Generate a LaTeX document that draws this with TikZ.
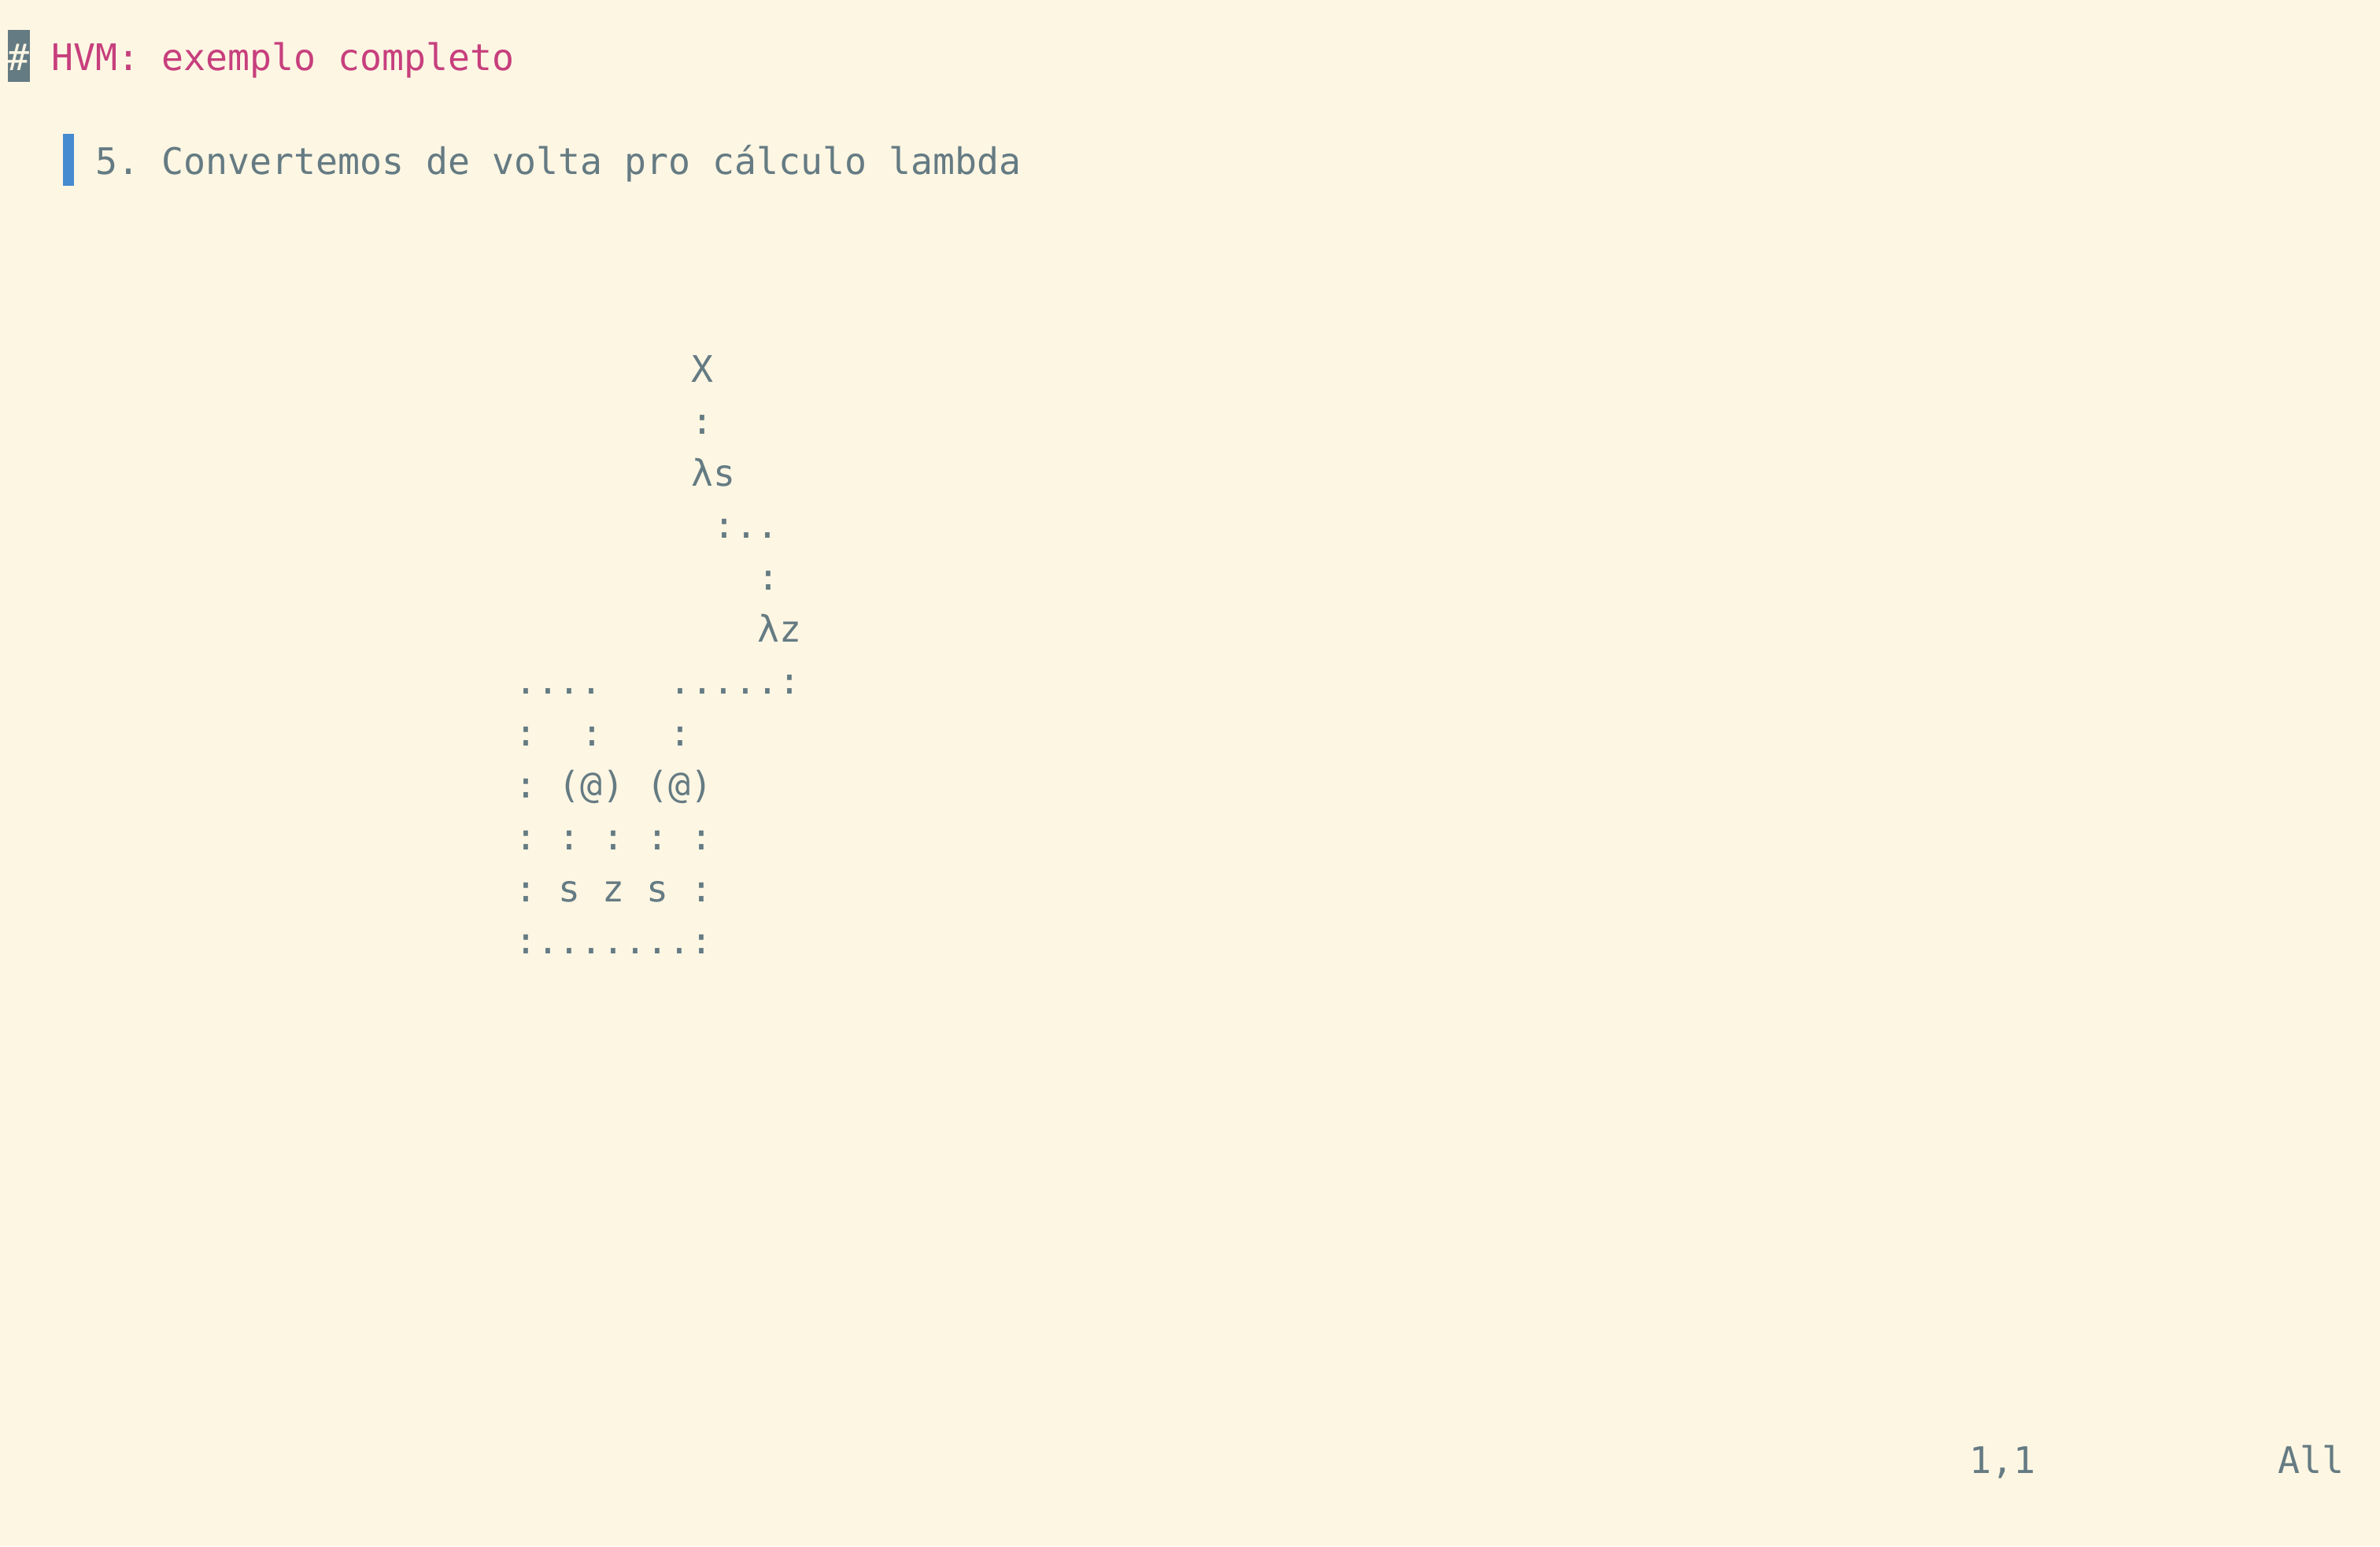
\documentclass[tikz,border=0pt]{standalone}
\usepackage{fontspec}
\setmonofont{DejaVu Sans Mono}
\usepackage{xcolor}
\definecolor{paper}{HTML}{FDF6E3}
\definecolor{ink}{HTML}{657B83}
\definecolor{rose}{HTML}{C73F7D}
\definecolor{quotebar}{HTML}{468AD0}
\tikzset{
  term/.style={anchor=base west, inner sep=0pt, outer sep=0pt, text=ink,
    font=\ttfamily\fontsize{11.627pt}{16.5pt}\selectfont},
}

\begin{document}
\begin{tikzpicture}[x=7pt, y=-16.5pt]
  % one unit = one character cell: x = column, y = line (baseline)
  \fill[paper] (-0.357,-1.353) rectangle (107.643,28.405);
  \useasboundingbox (-0.357,-1.353) rectangle (107.643,28.405);

  % heading
  \fill[ink] (0,-0.777) rectangle (1,0.223);
  \node[term, text=paper] (hash) at (0,0) {\#};
  \node[term, text=rose] (title) at (2,0) {HVM: exemplo completo};

  % quote line
  \fill[quotebar] (2.5,1.223) rectangle (3,2.223);
  \node[term] (step5) at (4,2) {5. Convertemos de volta pro cálculo lambda};

  % the term, drawn as text
  \node[term] (rootx) at (31,6) {X};
  \node[term] (l7) at (31,7) {:};
  \node[term] (lams) at (31,8) {λs};
  \node[term] (l9) at (32,9) {:..};
  \node[term] (l10) at (34,10) {:};
  \node[term] (lamz) at (34,11) {λz};
  \node[term] (l12a) at (23,12) {....};
  \node[term] (l12b) at (30,12) {.....:};
  \node[term] (l13a) at (23,13) {:};
  \node[term] (l13b) at (26,13) {:};
  \node[term] (l13c) at (30,13) {:};
  \node[term] (apps) at (23,14) {: (@) (@)};
  \node[term] (l15) at (23,15) {: : : : :};
  \node[term] (vars) at (23,16) {: s z s :};
  \node[term] (l17) at (23,17) {:.......:};

  % status line
  \node[term] (pos) at (89,27) {1,1};
  \node[term] (all) at (103,27) {All};
\end{tikzpicture}
\end{document}
